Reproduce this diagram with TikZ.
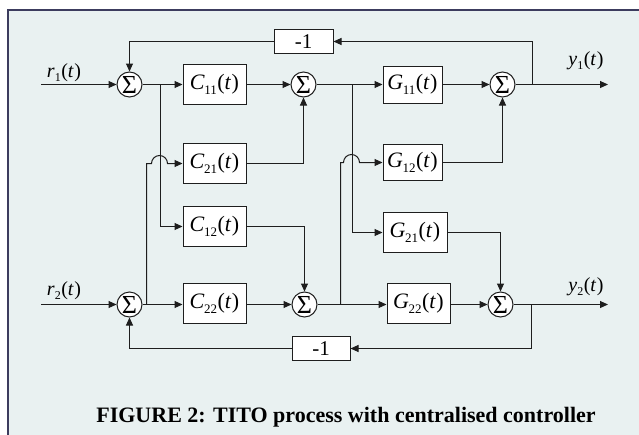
\documentclass[tikz,border=0pt]{standalone}
\usepackage{fontspec}
\setmainfont{Liberation Serif}
\usetikzlibrary{arrows.meta,calc}
\definecolor{bgc}{HTML}{E9F1F1}
\definecolor{framec}{HTML}{3C3C5E}
\definecolor{lnc}{HTML}{1E1E1E}
\newcommand{\tfn}[2]{\textit{#1}\kern-0.5pt\raisebox{-0.45ex}{\fontsize{13}{13}\selectfont #2}\kern0.5pt(\textit{t}\kern0.5pt)}
\newcommand{\sgn}[2]{\textit{#1}\raisebox{-0.45ex}{\fontsize{12}{12}\selectfont #2}\kern0.5pt(\textit{t}\kern0.5pt)}
\begin{document}
\begin{tikzpicture}[x=1pt,y=-1pt,
  blk/.style={draw=lnc,fill=white,line width=1pt,minimum width=63pt,minimum height=40pt,inner sep=0pt,font=\fontsize{22}{22}\selectfont},
  sumn/.style={circle,draw=lnc,fill=white,line width=1pt,minimum size=25pt,inner sep=0pt,font=\fontsize{26}{26}\selectfont},
  gain/.style={draw=lnc,fill=white,line width=1pt,minimum width=59pt,minimum height=24pt,inner sep=0pt,font=\fontsize{21}{21}\selectfont},
  wire/.style={draw=lnc,line width=1pt},
  arr/.style={wire,-{Triangle[length=8pt,width=7pt]}},
  sig/.style={font=\fontsize{20}{20}\selectfont,inner sep=0pt}]
\useasboundingbox (0,0) rectangle (639,434);
\begin{scope}
\clip (0,0) rectangle (639,434);
\fill[bgc] (8,10) rectangle (660,450);
\draw[framec,line width=2pt] (8,450) -- (8,10) -- (660,10);
\end{scope}

% sums
\node[sumn] (sA) at (129.5,84.5) {\raisebox{-0.5pt}{Σ}};
\node[sumn] (sB) at (303.5,84.5) {\raisebox{-0.5pt}{Σ}};
\node[sumn] (sC) at (502.5,84.5) {\raisebox{-0.5pt}{Σ}};
\node[sumn] (sD) at (129.5,304.5) {\raisebox{-0.5pt}{Σ}};
\node[sumn] (sE) at (304.5,304.5) {\raisebox{-0.5pt}{Σ}};
\node[sumn] (sF) at (500.5,304.5) {\raisebox{-0.5pt}{Σ}};
% blocks
\node[blk] (C11) at (214.5,84.5) {\tfn{C}{11}};
\node[blk] (C21) at (214.5,163.5) {\tfn{C}{21}};
\node[blk] (C12) at (214.5,226.5) {\tfn{C}{12}};
\node[blk] (C22) at (214.5,303.5) {\tfn{C}{22}};
\node[blk,minimum width=59pt,minimum height=37pt] (G11) at (412.5,84.5) {\tfn{G}{11}};
\node[blk,minimum width=59pt,minimum height=36pt] (G12) at (412.5,162.5) {\tfn{G}{12}};
\node[blk,minimum width=64pt] (G21) at (415,232.5) {\tfn{G}{21}};
\node[blk] (G22) at (418.5,303.5) {\tfn{G}{22}};
\node[gain] (fb1) at (303.5,41.5) {-1};
\node[gain,minimum width=58pt] (fb2) at (321,348.5) {-1};

% terminals
\coordinate (r1in) at (41,84.5);
\coordinate (r2in) at (41,304.5);
\coordinate (y1out) at (608,84.5);
\coordinate (y2out) at (608,304.5);
\coordinate (j1) at (160.5,84.5);
\coordinate (j2) at (146.5,304.5);
\coordinate (j3) at (352.5,84.5);
\coordinate (j4) at (340.5,304.5);
\coordinate (j5) at (532.5,84.5);
\coordinate (j6) at (531.5,304.5);

\node[sig] (lr1) at (64,73) {\sgn{r}{1}};
\node[sig] (lr2) at (64,291) {\sgn{r}{2}};
\node[sig] (ly1) at (586,61) {\sgn{y}{1}};
\node[sig] (ly2) at (586,287) {\sgn{y}{2}};

% row 1
\draw[arr] (r1in) -- (sA.west);
\draw[arr] (sA.east) -- (C11.west);
\draw[arr] (C11.east) -- (sB.west);
\draw[arr] (sB.east) -- (G11.west);
\draw[arr] (G11.east) -- (sC.west);
\draw[arr] (sC.east) -- (y1out);
% row 2
\draw[arr] (r2in) -- (sD.west);
\draw[arr] (sD.east) -- (C22.west|-sD.east);
\draw[arr] (C22.east|-sE.west) -- (sE.west);
\draw[arr] (sE.east) -- (G22.west|-sE.east);
\draw[arr] (G22.east|-sF.west) -- (sF.west);
\draw[arr] (sF.east) -- (y2out);
% feedback
\draw[arr] (j5) |- (fb1.east);
\draw[arr] (fb1.west) -| (sA.north);
\draw[arr] (j6) |- (fb2.east);
\draw[arr] (fb2.west) -| (sD.south);
% cross couplings controller
\draw[arr] (j1) |- (C12.west);
\draw[arr] (j2) |- ($(C21.west)+(-31,0)$) arc[start angle=180,end angle=0,radius=8pt] -- (C21.west);
\draw[arr] (C21.east) -| (sB.south);
\draw[arr] (C12.east) -| (sE.north);
% cross couplings process
\draw[arr] (j3) |- (G21.west);
\draw[arr] (j4) |- ($(G12.west)+(-39,0)$) arc[start angle=180,end angle=0,radius=8pt] -- (G12.west);
\draw[arr] (G12.east) -| (sC.south);
\draw[arr] (G21.east) -| (sF.north);

\node[font=\bfseries\fontsize{22}{22}\selectfont,inner sep=0pt] (cap) at (346,417) {FIGURE 2: TITO process with centralised controller};
\end{tikzpicture}
\end{document}
